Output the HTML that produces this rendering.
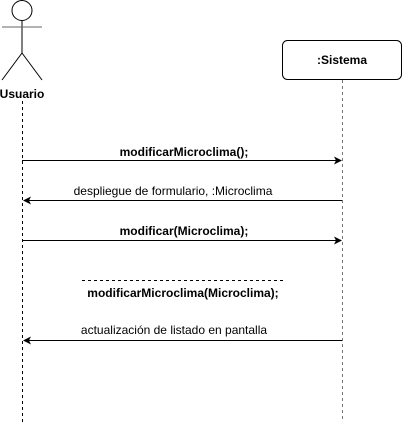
<!DOCTYPE html>
<html><head><style>html,body{margin:0;padding:0;background:#fff;width:403px;height:422px;overflow:hidden}</style></head>
<body>
<svg width="403" height="422" viewBox="0 0 403 422" xmlns="http://www.w3.org/2000/svg" font-family="Liberation Sans, Arial, sans-serif" font-size="12">
<g stroke="#000" fill="none" stroke-width="1">
<circle cx="22" cy="10.5" r="10"/>
<line x1="22" y1="20.5" x2="22" y2="53"/>
<line x1="2" y1="27" x2="42" y2="27" stroke="#666"/>
<line x1="22" y1="53" x2="2" y2="80"/>
<line x1="22" y1="53" x2="42" y2="80"/>
<rect x="282.5" y="40.5" width="119" height="39" rx="5"/>
<line x1="22.5" y1="101" x2="22.5" y2="422" stroke-dasharray="3,3"/>
<line x1="342.5" y1="80" x2="342.5" y2="422" stroke-dasharray="3,3" stroke="#777"/>
<line x1="22" y1="160.5" x2="336" y2="160.5"/>
<line x1="29" y1="200.5" x2="342" y2="200.5"/>
<line x1="22" y1="240.5" x2="336" y2="240.5"/>
<line x1="82" y1="280.5" x2="283" y2="280.5" stroke-dasharray="3,3"/>
<line x1="29" y1="340.5" x2="342" y2="340.5"/>
</g>
<g fill="#000">
<polygon points="342,160.5 334,156.5 336,160.5 334,164.5"/>
<polygon points="23,200.5 31,196.5 29,200.5 31,204.5"/>
<polygon points="342,240.5 334,236.5 336,240.5 334,244.5"/>
<polygon points="23,340.5 31,336.5 29,340.5 31,344.5"/>
</g>
<g text-anchor="middle" fill="#000">
<text x="22" y="98" font-weight="bold">Usuario</text>
<text x="342" y="64" font-weight="bold">:Sistema</text>
<text x="184" y="156" font-weight="bold">modificarMicroclima();</text>
<text x="173" y="195">despliegue de formulario, :Microclima</text>
<text x="184" y="235" font-weight="bold">modificar(Microclima);</text>
<text x="183" y="297" font-weight="bold">modificarMicroclima(Microclima);</text>
<text x="174" y="334">actualización de listado en pantalla</text>
</g>
</svg>
</body></html>
